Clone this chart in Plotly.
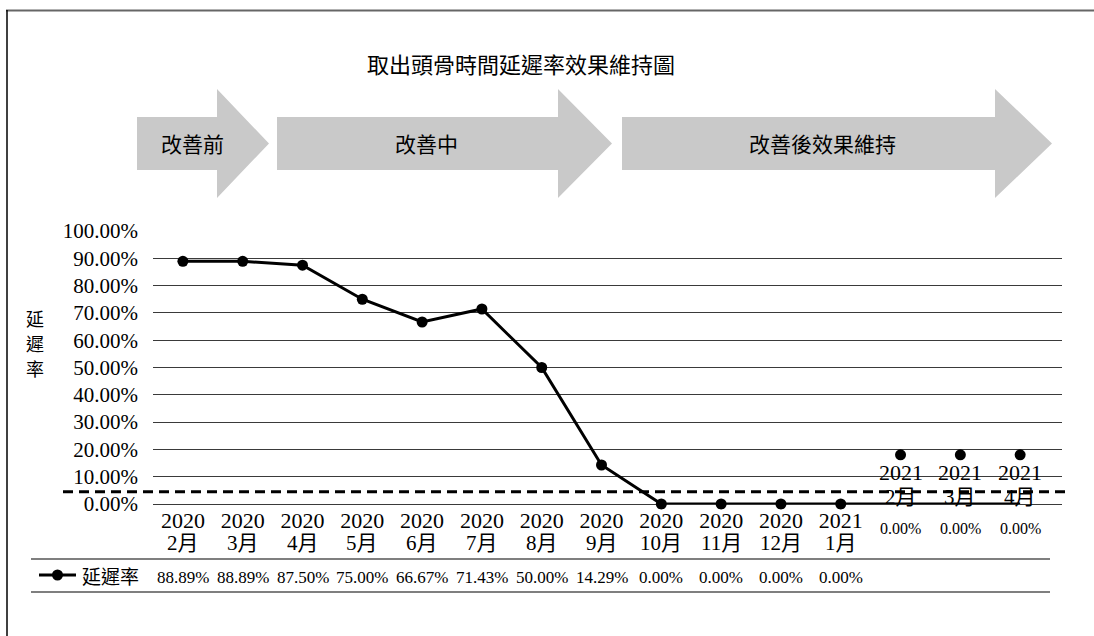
import plotly.graph_objects as go

# ---------------- data ----------------
years = ["2020"] * 11 + ["2021"] * 4
months = ["2月", "3月", "4月", "5月", "6月", "7月", "8月", "9月", "10月", "11月", "12月",
          "1月", "2月", "3月", "4月"]
categories = [f"{y}年{m}" for y, m in zip(years, months)]
delay_rate = [0.8889, 0.8889, 0.8750, 0.7500, 0.6667, 0.7143, 0.5000, 0.1429,
              0.0, 0.0, 0.0, 0.0, 0.0, 0.0, 0.0]
n_table = 12                      # months shown inside the data table
floating_dots = [0.18, 0.18, 0.18]  # the three detached markers (2021 2月-4月)
target_line = 0.045               # dashed reference line
phases = ["改善前", "改善中", "改善後效果維持"]
title = "取出頭骨時間延遲率效果維持圖"
series_name = "延遲率"

# ---------------- geometry helpers ----------------
W, H = 1094, 636
L, R, T, B = 153, 32, 231, 132
PW, PH = W - L - R, H - T - B


def px(x):
    return (x - L) / PW


def py(y):
    return (H - B - y) / PH


SERIF = "Liberation Serif, Noto Sans CJK TC, serif"
CJK = "Noto Sans CJK TC, Liberation Serif, serif"

fig = go.Figure()

# main line
fig.add_trace(go.Scatter(
    x=categories, y=delay_rate, mode="lines", name=series_name,
    line=dict(color="#000000", width=3), cliponaxis=False, showlegend=False,
))
# markers for the tabled months
fig.add_trace(go.Scatter(
    x=categories[:n_table], y=delay_rate[:n_table], mode="markers",
    marker=dict(color="#000000", size=11, opacity=1, line=dict(color="#000000", width=0)),
    cliponaxis=False, showlegend=False,
))
# detached markers
fig.add_trace(go.Scatter(
    x=categories[n_table:], y=floating_dots, mode="markers",
    marker=dict(color="#000000", size=11, opacity=1, line=dict(color="#000000", width=0)),
    cliponaxis=False, showlegend=False,
))

ann = []
shapes = []


def text(t, x, y, size, family=SERIF, xref="paper", xanchor="center"):
    ann.append(dict(text=t, x=x, y=y, xref=xref, yref="paper", showarrow=False,
                    xanchor=xanchor, yanchor="middle",
                    font=dict(family=family, size=size, color="black")))


# title
text(title, px(521), py(63), 22, CJK)

# phase arrows
arrow_geo = [(137, 217, 269), (277, 558, 612), (622, 995, 1052)]
label_x = [192, 426, 822]
for (x0, xb, xt), lab, lx in zip(arrow_geo, phases, label_x):
    pts = [(x0, 117), (xb, 117), (xb, 89), (xt, 143.5), (xb, 198), (xb, 170), (x0, 170)]
    path = "M " + " L ".join(f"{px(a):.5f},{py(b):.5f}" for a, b in pts) + " Z"
    shapes.append(dict(type="path", path=path, xref="paper", yref="paper",
                       fillcolor="#c9c9c9", line=dict(width=0), layer="below"))
    text(lab, px(lx), py(143), 21, CJK)

# y axis title (vertical stacked, one glyph per row)
for i, ch in enumerate(series_name):
    text(ch, px(35), py(318 + 25 * i), 18, CJK)

# month labels under the year ticks (first 12)
for c, m in zip(categories[:n_table], months[:n_table]):
    text(m, c, py(543), 21, xref="x")

# labels of detached categories drawn inside plot
for c, yv, m in zip(categories[n_table:], years[n_table:], months[n_table:]):
    text(yv, c, py(472), 22, xref="x")
    text(m, c, py(497), 21, xref="x")

# values of detached categories
for c, v in zip(categories[n_table:], delay_rate[n_table:]):
    text(f"{v*100:.2f}%", c, py(528), 16, xref="x")

# data table values
for c, v in zip(categories[:n_table], delay_rate[:n_table]):
    text(f"{v*100:.2f}%", c, py(577), 17, xref="x")

# table lines
for yy in (559, 592):
    shapes.append(dict(type="line", xref="paper", yref="paper", x0=px(31), x1=px(1050),
                       y0=py(yy), y1=py(yy), line=dict(color="#555555", width=1.5)))

# legend key inside table
shapes.append(dict(type="line", xref="paper", yref="paper", x0=px(39), x1=px(76),
                   y0=py(575), y1=py(575), line=dict(color="black", width=3)))
shapes.append(dict(type="circle", xref="paper", yref="paper", x0=px(52), x1=px(63),
                   y0=py(569.5), y1=py(580.5), fillcolor="black", line=dict(width=0)))
text(series_name, px(80), py(575), 19, CJK, xanchor="left")

# dashed reference line
shapes.append(dict(type="line", xref="paper", yref="y", x0=px(63), x1=px(1068),
                   y0=target_line, y1=target_line,
                   line=dict(color="black", width=3, dash="10px,6px")))

# frame lines (top / left)
shapes.append(dict(type="line", xref="paper", yref="paper", x0=px(6), x1=px(1094),
                   y0=py(10.5), y1=py(10.5), line=dict(color="#666666", width=2)))
shapes.append(dict(type="line", xref="paper", yref="paper", x0=px(7), x1=px(7),
                   y0=py(10), y1=py(636), line=dict(color="black", width=1.5)))

fig.update_layout(
    width=W, height=H, margin=dict(l=L, r=R, t=T, b=B),
    paper_bgcolor="white", plot_bgcolor="white",
    annotations=ann, shapes=shapes, showlegend=False,
    font=dict(family=SERIF, color="black"),
    xaxis=dict(type="category", range=[-0.5, 14.7], showgrid=False, zeroline=False,
               showline=False, ticks="", tickmode="array",
               tickvals=categories[:n_table], ticktext=years[:n_table],
               tickfont=dict(family=SERIF, size=22, color="black"),
               ticklabelstandoff=1),
    yaxis=dict(range=[0, 1], dtick=0.1, tickformat=".2%", showgrid=True,
               gridcolor="#3a3a3a", gridwidth=1, zeroline=True, zerolinecolor="#3a3a3a",
               zerolinewidth=1, showline=False, ticks="",
               tickfont=dict(family=SERIF, size=21, color="black"),
               ticklabelstandoff=14),
)

fig.write_html("out.html")
